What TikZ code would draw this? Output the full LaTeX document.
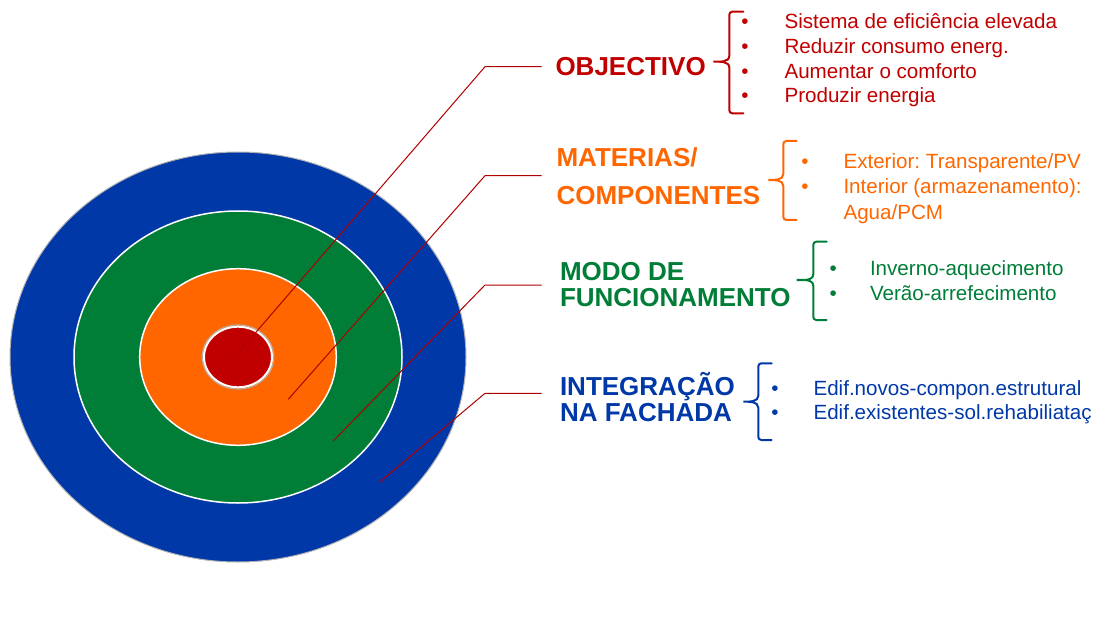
\documentclass[tikz,border=0pt]{standalone}
\usepackage{fontspec}
\setmainfont{Liberation Sans}
\frenchspacing
\definecolor{TgtRed}   {RGB}{192,0,0}
\definecolor{TgtOrange}{RGB}{255,102,0}
\definecolor{TgtGreen} {RGB}{0,125,55}
\definecolor{TgtBlue}  {RGB}{0,56,168}
\definecolor{LinkRed}  {RGB}{175,0,0}
\usetikzlibrary{calc}

\begin{document}
\begin{tikzpicture}[x=1pt,y=-1pt,
    every node/.style={inner sep=0pt,outer sep=0pt},
    head/.style={anchor=base west,font=\fontsize{26}{30}\selectfont\bfseries},
    item/.style={anchor=base west,font=\fontsize{20.6}{25}\selectfont},
    dot/.style={anchor=base,font=\fontsize{20.6}{25}\selectfont},
    link/.style={LinkRed,line width=1pt},
    brak/.style={line width=2pt,line cap=round}]
  \useasboundingbox (0,0) rectangle (1097,620);

  % target rings
  \coordinate (c) at (238,357);
  \filldraw[fill=TgtBlue,draw=black!30,line width=1pt]
    (c) ellipse [x radius=228,y radius=205];
  \filldraw[fill=TgtGreen,draw=white,line width=1.5pt]
    (c) ellipse [x radius=164,y radius=146];
  \filldraw[fill=TgtOrange,draw=white,line width=1.5pt]
    (c) ellipse [x radius=98.3,y radius=88.3];
  \draw[black!30,line width=1pt] (c) ellipse [x radius=35.8,y radius=32.1];
  \filldraw[fill=TgtRed,draw=white,line width=2pt]
    (c) ellipse [x radius=34,y radius=30.3];

  % connectors
  \foreach \sx/\sy/\ky [count=\i] in
      {235/356.5/66.7, 288.3/399.3/175.7, 333.3/441/285, 379/482.7/393.3} {
    \coordinate (t\i) at (\sx,\sy);
    \coordinate (k\i) at (485,\ky);
    \coordinate (e\i) at (541.7,\ky);
    \draw[link] (t\i) -- (k\i) -- (e\i);
  }

  % headings
  \node[head,TgtRed]    (obj)  at (555.5,76)    {OBJECTIVO};
  \node[head,TgtOrange] (mat1) at (556.5,166.7) {MATERIAS/};
  \node[head,TgtOrange] (mat2) at (556.5,205)   {COMPONENTES};
  \node[head,TgtGreen]  (mod1) at (560,280)     {MODO DE};
  \node[head,TgtGreen]  (mod2) at (560,306.7)   {FUNCIONAMENTO};
  \node[head,TgtBlue]   (int1) at (560,395)     {INTEGRAÇÃO};
  \node[head,TgtBlue]   (int2) at (560,421.7)   {NA FACHADA};

  % braces
  \foreach \c/\x/\t/\m/\b/\l/\r in
      {TgtRed/729.3/11.7/61.7/113.3/713.3/743.3,
       TgtOrange/783.3/141/180/220/768.3/796.7,
       TgtGreen/813.3/241.7/280/320/796.7/826.7,
       TgtBlue/758.3/363.3/401.7/440/743.3/771.7}
    \draw[brak,\c] (\r,\t) -- (\x+3,\t) to[out=180,in=90] (\x,\t+3)
      -- (\x,\m-6) to[out=-90,in=0] (\l,\m) to[out=0,in=90] (\x,\m+6)
      -- (\x,\b-3) to[out=-90,in=180] (\x+3,\b) -- (\r,\b);

  % item lists
  \foreach \txt [count=\i] in {Sistema de eficiência elevada,
      Reduzir consumo energ., Aumentar o comforto, Produzir energia} {
    \node[dot,TgtRed]  (objb\i) at (745,3.4+24.9*\i) {•};
    \node[item,TgtRed] (obji\i) at (784.5,3.4+24.9*\i) {\txt};
  }
  \foreach \i in {1,2}
    \node[dot,TgtOrange] (matb\i) at (805,142.6+25.7*\i) {•};
  \foreach \txt [count=\i] in {{Exterior: Transparente/PV},
      {Interior (armazenamento):}, {Agua/PCM}}
    \node[item,TgtOrange] (mati\i) at (843.5,142.6+25.7*\i) {\txt};
  \foreach \txt [count=\i] in {Inverno-aquecimento, Verão-arrefecimento} {
    \node[dot,TgtGreen]  (modb\i) at (833.3,250.5+25*\i) {•};
    \node[item,TgtGreen] (modi\i) at (870,250.5+25*\i) {\txt};
  }
  \foreach \txt [count=\i] in {Edif.novos-compon.estrutural,
      Edif.existentes-sol.rehabiliataç} {
    \node[dot,TgtBlue]  (intb\i) at (775,371+24*\i) {•};
    \node[item,TgtBlue] (inti\i) at (813.5,371+24*\i) {\txt};
  }
\end{tikzpicture}
\end{document}
